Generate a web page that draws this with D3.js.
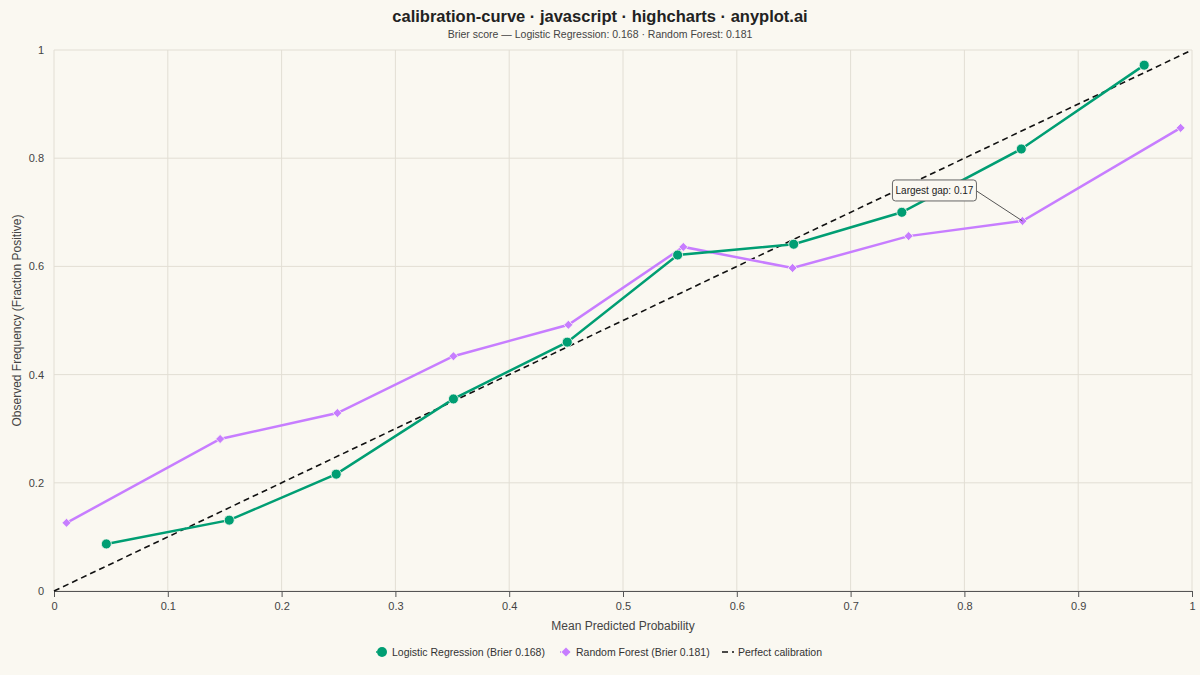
<!DOCTYPE html>
<html>
<head>
<meta charset="utf-8">
<script src="https://cdn.jsdelivr.net/npm/d3@7"></script>
<style>
  html, body { margin: 0; padding: 0; background: #faf8f1; }
  svg { display: block; font-family: "Liberation Sans", Arial, Helvetica, sans-serif; }
</style>
</head>
<body>
<div id="chart"></div>
<script>
// values
const lrX = [0.046, 0.154, 0.248, 0.351, 0.451, 0.548, 0.650, 0.745, 0.850, 0.958];
const lrY = [0.087, 0.131, 0.216, 0.355, 0.460, 0.621, 0.641, 0.700, 0.817, 0.972];
const rfX = [0.011, 0.146, 0.249, 0.351, 0.452, 0.553, 0.649, 0.751, 0.851, 0.990];
const rfY = [0.126, 0.281, 0.329, 0.434, 0.492, 0.636, 0.597, 0.656, 0.684, 0.856];
const diagonal = [0, 1];
const xTicks = [0, 0.1, 0.2, 0.3, 0.4, 0.5, 0.6, 0.7, 0.8, 0.9, 1];
const yTicks = [0, 0.2, 0.4, 0.6, 0.8, 1];
const seriesNames = ['Logistic Regression (Brier 0.168)', 'Random Forest (Brier 0.181)', 'Perfect calibration'];

const width = 1200, height = 675;
const margin = { top: 50, right: 8, bottom: 84, left: 54 };
const green = '#009e73', purple = '#c77dff';

const svg = d3.select('#chart').append('svg')
  .attr('width', width)
  .attr('height', height);

svg.append('rect').attr('width', width).attr('height', height).attr('fill', '#faf8f1');

const x = d3.scaleLinear().domain([0, 1]).range([margin.left, width - margin.right]);
const y = d3.scaleLinear().domain([0, 1]).range([height - margin.bottom, margin.top]);

// title
svg.append('text')
  .attr('x', width / 2).attr('y', 22)
  .attr('text-anchor', 'middle')
  .attr('font-size', 16.5).attr('font-weight', 'bold').attr('fill', '#222')
  .text('calibration-curve · javascript · highcharts · anyplot.ai');

svg.append('text')
  .attr('x', width / 2).attr('y', 38)
  .attr('text-anchor', 'middle')
  .attr('font-size', 10.5).attr('fill', '#444')
  .text('Brier score — Logistic Regression: 0.168 · Random Forest: 0.181');

// grid
const grid = svg.append('g');
grid.selectAll('.gx').data(xTicks).enter().append('line')
  .attr('x1', d => x(d)).attr('x2', d => x(d))
  .attr('y1', y(1)).attr('y2', y(0))
  .attr('stroke', '#e2ded4').attr('stroke-width', 1);
grid.selectAll('.gy').data(yTicks).enter().append('line')
  .attr('x1', x(0)).attr('x2', x(1))
  .attr('y1', d => y(d)).attr('y2', d => y(d))
  .attr('stroke', '#e2ded4').attr('stroke-width', 1);

// axes
const xAxis = svg.append('g')
  .attr('transform', `translate(0,${y(0)})`)
  .call(d3.axisBottom(x).tickValues(xTicks).tickFormat(d3.format('~g')).tickSize(6).tickPadding(5));
xAxis.select('.domain').attr('stroke', '#555');
xAxis.selectAll('.tick line').attr('stroke', '#555');
xAxis.selectAll('text').attr('font-size', 11).attr('fill', '#444').attr('font-family', null);

const yAxis = svg.append('g')
  .attr('transform', `translate(${x(0)},0)`)
  .call(d3.axisLeft(y).tickValues(yTicks).tickFormat(d3.format('~g')).tickSize(0).tickPadding(10));
yAxis.select('.domain').remove();
yAxis.selectAll('text').attr('font-size', 11).attr('fill', '#444').attr('font-family', null);

svg.append('text')
  .attr('x', (x(0) + x(1)) / 2).attr('y', 630)
  .attr('text-anchor', 'middle').attr('font-size', 12).attr('fill', '#444')
  .text('Mean Predicted Probability');

svg.append('text')
  .attr('transform', `translate(21,${(y(0) + y(1)) / 2}) rotate(-90)`)
  .attr('text-anchor', 'middle').attr('font-size', 12).attr('fill', '#444')
  .text('Observed Frequency (Fraction Positive)');

const line = d3.line().x(d => x(d[0])).y(d => y(d[1]));

// perfect calibration
svg.append('path')
  .datum(diagonal.map(v => [v, v]))
  .attr('d', line)
  .attr('fill', 'none').attr('stroke', '#111')
  .attr('stroke-width', 1.6).attr('stroke-dasharray', '6,4');

const rf = d3.zip(rfX, rfY);
const lr = d3.zip(lrX, lrY);

svg.append('path').datum(rf).attr('d', line)
  .attr('fill', 'none').attr('stroke', purple).attr('stroke-width', 2.5);
svg.append('path').datum(lr).attr('d', line)
  .attr('fill', 'none').attr('stroke', green).attr('stroke-width', 2.5);

svg.selectAll('.rfp').data(rf).enter().append('path')
  .attr('transform', d => `translate(${x(d[0])},${y(d[1])})`)
  .attr('d', 'M0,-4.5L4.5,0L0,4.5L-4.5,0Z')
  .attr('fill', purple).attr('stroke', '#faf8f1').attr('stroke-width', 0.8);

svg.selectAll('.lrp').data(lr).enter().append('circle')
  .attr('cx', d => x(d[0])).attr('cy', d => y(d[1])).attr('r', 5)
  .attr('fill', green).attr('stroke', '#faf8f1').attr('stroke-width', 0.8);

// largest gap annotation
let gi = 0, gmax = -1;
rf.forEach((d, i) => { const g = Math.abs(d[1] - d[0]); if (g > gmax) { gmax = g; gi = i; } });
const gp = rf[gi];
const px = x(gp[0]), py = y(gp[1]);
const bx = px - 130, by = py - 41, bw = 84, bh = 21;
svg.append('line')
  .attr('x1', bx + bw - 6).attr('y1', by + 7)
  .attr('x2', px).attr('y2', py)
  .attr('stroke', '#555').attr('stroke-width', 1);
svg.append('rect')
  .attr('x', bx).attr('y', by).attr('width', bw).attr('height', bh).attr('rx', 3)
  .attr('fill', '#faf8f1').attr('stroke', '#666').attr('stroke-width', 1);
svg.append('text')
  .attr('x', bx + bw / 2).attr('y', by + 14)
  .attr('text-anchor', 'middle').attr('font-size', 10).attr('fill', '#222')
  .text('Largest gap: ' + gmax.toFixed(2));

// legend
const legend = svg.append('g').attr('transform', 'translate(0,652)');
const legendX = [376, 560, 722];
seriesNames.forEach((name, i) => {
  const g = legend.append('g').attr('transform', `translate(${legendX[i]},0)`);
  if (i === 0) {
    g.append('line').attr('x1', 0).attr('x2', 12).attr('stroke', green).attr('stroke-width', 1.5).attr('stroke-dasharray', '1,2');
    g.append('circle').attr('cx', 6).attr('r', 5).attr('fill', green);
  } else if (i === 1) {
    g.append('line').attr('x1', 0).attr('x2', 12).attr('stroke', purple).attr('stroke-width', 1.5).attr('stroke-dasharray', '1,2');
    g.append('path').attr('transform', 'translate(6,0)').attr('d', 'M0,-4.5L4.5,0L0,4.5L-4.5,0Z').attr('fill', purple);
  } else {
    g.append('line').attr('x1', 0).attr('x2', 12).attr('stroke', '#111').attr('stroke-width', 1.6).attr('stroke-dasharray', '6,4');
  }
  g.append('text').attr('x', 16).attr('y', 4)
    .attr('font-size', 10.5).attr('fill', '#333')
    .text(name);
});
</script>
</body>
</html>
